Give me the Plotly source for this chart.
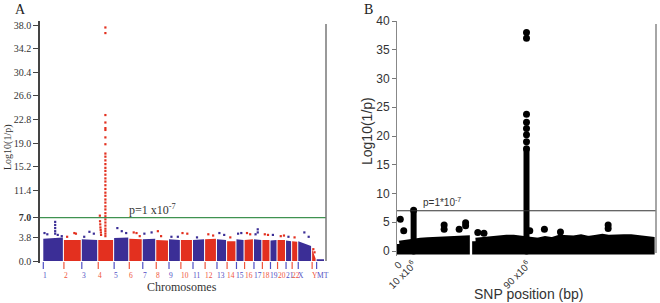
import plotly.graph_objects as go

# ---------------- Panel A data (genome-wide Manhattan) ----------------
chrom_names = ["1", "2", "3", "4", "5", "6", "7", "8", "9", "10", "11", "12", "13",
               "14", "15", "16", "17", "18", "19", "20", "21", "22", "X", "Y", "MT"]
chrom_len_mb = [244, 210, 192, 185, 176, 155, 155, 146, 135, 138, 138, 135, 113,
                104, 88, 104, 92, 88, 75, 93, 63, 63, 160, 43, 92]
chrom_gap_mb = 13
# upper edge of the dense SNP band (left end / right end of each chromosome)
band_top_start = [3.6, 3.4, 3.5, 3.4, 3.7, 3.6, 3.5, 3.4, 3.5, 3.4, 3.4, 3.5, 3.5,
                  3.2, 3.5, 3.4, 3.5, 3.4, 3.3, 3.4, 3.3, 3.2, 3.2, 1.9, 0.3]
band_top_end = [3.8, 3.4, 3.4, 3.4, 3.8, 3.5, 3.6, 3.3, 3.4, 3.4, 3.5, 3.6, 3.4,
                3.2, 3.4, 3.5, 3.4, 3.4, 3.4, 3.4, 3.2, 3.1, 2.4, 0.4, 0.3]
# isolated SNPs above the band: chromosome index, position in chromosome (Mb), -log10 p
out_chrom = [0, 0, 0, 0, 0, 0, 0, 0, 0,
             1, 1, 1, 2, 2, 2,
             3, 3, 3, 3, 3, 3, 3,
             4, 4, 4, 5, 5, 5, 6, 6, 7, 7, 8, 8, 9, 9, 10, 11, 11, 12, 12, 13,
             14, 14, 15, 15, 16, 16, 16, 17, 17, 18, 19, 19, 20, 21, 22, 22, 23, 23]
out_pos = [148, 148, 148, 148, 148, 15, 50, 180, 230,
           130, 150, 40, 95, 150, 30,
           20, 22, 25, 27, 30, 33, 35,
           40, 95, 150, 55, 90, 130, 20, 110, 20, 60, 30, 110, 20, 80, 50, 40, 100, 30, 90, 40,
           20, 60, 30, 70, 47, 47, 20, 30, 70, 30, 40, 80, 30, 30, 76, 130, 15, 30]
out_val = [6.3, 5.8, 5.3, 4.8, 4.4, 4.5, 4.3, 4.2, 4.0,
           4.5, 4.4, 3.9, 4.7, 4.4, 3.9,
           7.3, 6.4, 5.9, 5.4, 5.0, 4.6, 4.2,
           5.3, 4.8, 4.5, 4.6, 4.5, 4.0, 4.4, 4.6, 4.8, 4.0, 3.9, 3.9, 4.5, 4.4, 3.8, 4.3, 4.1, 4.5, 4.2, 3.8,
           4.4, 4.5, 4.5, 4.3, 5.1, 4.6, 4.3, 4.3, 4.2, 4.2, 4.0, 4.1, 3.9, 3.8, 4.6, 3.9, 1.9, 1.4]
# chromosome 4 peak column
peak_a_chrom = 3
peak_a_pos = 89
peak_a_vals = [37.6, 36.7, 23.5, 22.3, 21.4, 21.1, 19.9, 18.8, 17.3, 16.8, 16.2, 15.6,
               15.0, 14.5, 13.9, 13.3, 12.8, 12.2, 11.6, 11.0, 10.5, 9.9, 9.4, 8.8,
               8.3, 7.7, 7.2, 6.7, 6.2, 5.7, 5.2, 4.8, 4.4, 4.0]
y_ticks_a = [0.0, 3.8, 7.0, 11.4, 15.2, 19.0, 22.8, 26.6, 30.4, 34.2, 38.0]
y_ticktext_a = ["0.0", "3.8", "<b>7.0</b>", "11.4", "15.2", "19.0", "22.8",
                "26.6", "30.4", "34.2", "38.0"]
threshold = 7.0

# ---------------- Panel B data (chromosome 4 region) ----------------
mass1_pos = [0.3, 5, 8, 15, 20, 25, 30, 35, 40, 47]
mass1_top = [1.2, 1.4, 1.6, 1.7, 1.8, 1.9, 2.0, 1.9, 2.0, 2.1]
mass2_pos = [53.5, 60, 65, 70, 75, 80, 85, 92, 97, 102, 107, 112, 117, 122, 127,
             132, 137, 142, 147, 152, 157, 162, 167, 172, 176]
mass2_top = [1.7, 1.9, 2.1, 2.1, 2.2, 2.2, 2.1, 1.8, 1.7, 2.0, 1.8, 2.2, 2.0, 2.1, 2.3,
             2.0, 2.2, 2.4, 2.2, 2.1, 2.3, 2.3, 2.2, 2.0, 1.9]
col10_pos = 10.2
col10_top = 7.1
col89_pos = 89.0
col89_top = 17.8
peak_b_vals = [19.0, 20.2, 21.3, 22.4, 23.8, 37.0, 38.0]
b_out_pos = [0.9, 3.3, 31.5, 31.5, 42, 46.5, 46.5, 55, 59.3, 91.3, 101.5, 112.7, 146, 146]
b_out_val = [5.5, 3.5, 4.5, 3.8, 3.8, 4.9, 4.4, 3.2, 3.1, 3.5, 3.8, 3.3, 4.5, 3.9]
y_ticks_b = [0, 5, 10, 15, 20, 25, 30, 35, 40]
x_ticks_b = [0, 10, 90]
x_ticktext_b = ["0", "10 x10<sup>6</sup>", "90 x10<sup>6</sup>"]

# ---------------- styles ----------------
W, H = 660, 303
BLUE = "#3b2e96"
RED = "#e3301f"
LBL_BLUE = "#4f4fc4"
LBL_RED = "#f0553c"
GREEN = "#3f9250"
SERIF = "Liberation Serif, Times New Roman, serif"
SANS = "Liberation Sans, Arial, sans-serif"


def px_x(p):
    return p / W


def px_y(p):
    return 1 - p / H


starts = []
acc = 0
for L in chrom_len_mb:
    starts.append(acc)
    acc += L + chrom_gap_mb

fig = go.Figure()

# bands
for parity, col in ((0, BLUE), (1, RED)):
    xs, ys = [], []
    for i, L in enumerate(chrom_len_mb):
        if i % 2 != parity:
            continue
        s = starts[i]
        e = s + L
        xs += [s, s, e, e, s, None]
        ys += [0, band_top_start[i], band_top_end[i], 0, 0, None]
    fig.add_trace(go.Scatter(x=xs, y=ys, mode="lines", fill="toself", fillcolor=col,
                             line=dict(width=0, color=col), hoverinfo="skip",
                             xaxis="x", yaxis="y", showlegend=False))

# outliers
for parity, col in ((0, BLUE), (1, RED)):
    xs = [starts[c] + p for c, p in zip(out_chrom, out_pos) if c % 2 == parity]
    ys = [v for c, v in zip(out_chrom, out_val) if c % 2 == parity]
    fig.add_trace(go.Scatter(x=xs, y=ys, mode="markers",
                             marker=dict(symbol="square", size=2.2, color=col),
                             xaxis="x", yaxis="y", showlegend=False))

fig.add_trace(go.Scatter(x=[starts[peak_a_chrom] + peak_a_pos] * len(peak_a_vals), y=peak_a_vals,
                         mode="markers", marker=dict(symbol="square", size=2.2, color=RED),
                         xaxis="x", yaxis="y", showlegend=False))

# ---- panel B ----
for mx, my in ((mass1_pos, mass1_top), (mass2_pos, mass2_top)):
    xs = list(mx) + list(reversed(mx)) + [mx[0]]
    ys = list(my) + [0] * len(mx) + [my[0]]
    fig.add_trace(go.Scatter(x=xs, y=ys, mode="lines", fill="toself", fillcolor="black",
                             line=dict(width=7, color="black"), hoverinfo="skip",
                             xaxis="x2", yaxis="y2", showlegend=False))

for cx, ct in ((col10_pos, col10_top), (col89_pos, col89_top)):
    fig.add_trace(go.Scatter(x=[cx, cx], y=[0, ct], mode="lines+markers",
                             line=dict(width=6, color="black"),
                             marker=dict(size=7, color="black"),
                             xaxis="x2", yaxis="y2", showlegend=False))

fig.add_trace(go.Scatter(x=[col89_pos] * len(peak_b_vals), y=peak_b_vals, mode="markers",
                         marker=dict(size=7, color="black"),
                         xaxis="x2", yaxis="y2", showlegend=False))
fig.add_trace(go.Scatter(x=b_out_pos, y=b_out_val, mode="markers",
                         marker=dict(size=7, color="black"),
                         xaxis="x2", yaxis="y2", showlegend=False))

# ---- axes ----
kA = (324 - 43.3) / (starts[-1] + chrom_len_mb[-1])
xA_range = [-(43.3 - 40) / kA, (326 - 43.3) / kA]

fig.update_layout(
    width=W, height=H, margin=dict(l=0, r=0, t=0, b=0, autoexpand=False),
    paper_bgcolor="white", plot_bgcolor="white",
    xaxis=dict(domain=[px_x(40), px_x(326)], range=xA_range, showgrid=False,
               zeroline=False, showline=False, showticklabels=False, ticks="",
               automargin=False),
    yaxis=dict(domain=[px_y(263), px_y(21)], range=[-2 / 6.21, 38 + 4 / 6.21],
               tickvals=y_ticks_a, ticktext=y_ticktext_a, ticks="outside", ticklen=5,
               tickcolor="#444", showline=True, linecolor="#444", linewidth=1.5,
               showgrid=False, zeroline=False, automargin=False,
               tickfont=dict(family=SERIF, size=10, color="#333")),
    xaxis2=dict(domain=[px_x(397), px_x(656)], range=[-1.4, 179.4], showgrid=False,
                zeroline=False, showline=False, tickvals=x_ticks_b, ticktext=x_ticktext_b,
                tickangle=-45, ticks="", tickfont=dict(family=SANS, size=10, color="#333"),
                anchor="y2", automargin=False),
    yaxis2=dict(domain=[px_y(256), px_y(21)], range=[-5 / 5.75, 40],
                tickvals=y_ticks_b, ticks="outside", ticklen=4, tickcolor="#777",
                showline=True, linecolor="#888", linewidth=1, showgrid=False,
                zeroline=False, tickfont=dict(family=SANS, size=12, color="#333"),
                anchor="x2", automargin=False),
)

shapes = [
    dict(type="line", xref="x domain", yref="y", x0=0, x1=1, y0=threshold, y1=threshold,
         line=dict(color=GREEN, width=1.2)),
    dict(type="line", xref="paper", yref="paper", x0=px_x(326), x1=px_x(326),
         y0=px_y(261), y1=px_y(24), line=dict(color="#777", width=1.5)),
    dict(type="line", xref="x2 domain", yref="y2", x0=0, x1=1, y0=threshold, y1=threshold,
         line=dict(color="#333", width=1.2)),
    dict(type="line", xref="paper", yref="paper", x0=px_x(656), x1=px_x(656),
         y0=px_y(253), y1=px_y(24), line=dict(color="#888", width=1.5)),
]
annotations = []
for i, name in enumerate(chrom_names):
    col = LBL_BLUE if i % 2 == 0 else LBL_RED
    shapes.append(dict(type="line", xref="x", yref="paper", x0=starts[i], x1=starts[i],
                       y0=px_y(269), y1=px_y(262), line=dict(color=col, width=1.2)))
    annotations.append(dict(text=name, x=starts[i], xref="x", y=px_y(275), yref="paper",
                            xanchor="left", yanchor="middle", showarrow=False, xshift=-1,
                            borderpad=0,
                            font=dict(family=SERIF, size=7.5, color=col)))


def label(text, x, y, font, angle=0, xanchor="center"):
    return dict(text=text, x=px_x(x), y=px_y(y), xref="paper", yref="paper",
                xanchor=xanchor, yanchor="middle", showarrow=False, textangle=angle,
                font=font)


annotations += [
    label("A", 20, 9, dict(family=SERIF, size=14, color="#222")),
    label("B", 368, 9, dict(family=SERIF, size=14, color="#222")),
    label("Log10(1/p)", 8, 147, dict(family=SERIF, size=10, color="#333"), angle=-90),
    label("Chromosomes", 182, 287, dict(family=SERIF, size=12, color="#333")),
    label("p=1 x10<sup>-7</sup>", 127, 210, dict(family=SERIF, size=12, color="#333"),
          xanchor="left"),
    label("Log10(1/p)", 367, 131, dict(family=SANS, size=14, color="#333"), angle=-90),
    label("SNP position (bp)", 528, 294, dict(family=SANS, size=14, color="#333")),
    label("p=1*10<sup>-7</sup>", 421, 202, dict(family=SANS, size=10, color="#333"),
          xanchor="left"),
]
fig.update_layout(shapes=shapes, annotations=annotations)

fig.write_html("out.html", config={"displayModeBar": False},
               post_script="document.body.style.margin='0';")
